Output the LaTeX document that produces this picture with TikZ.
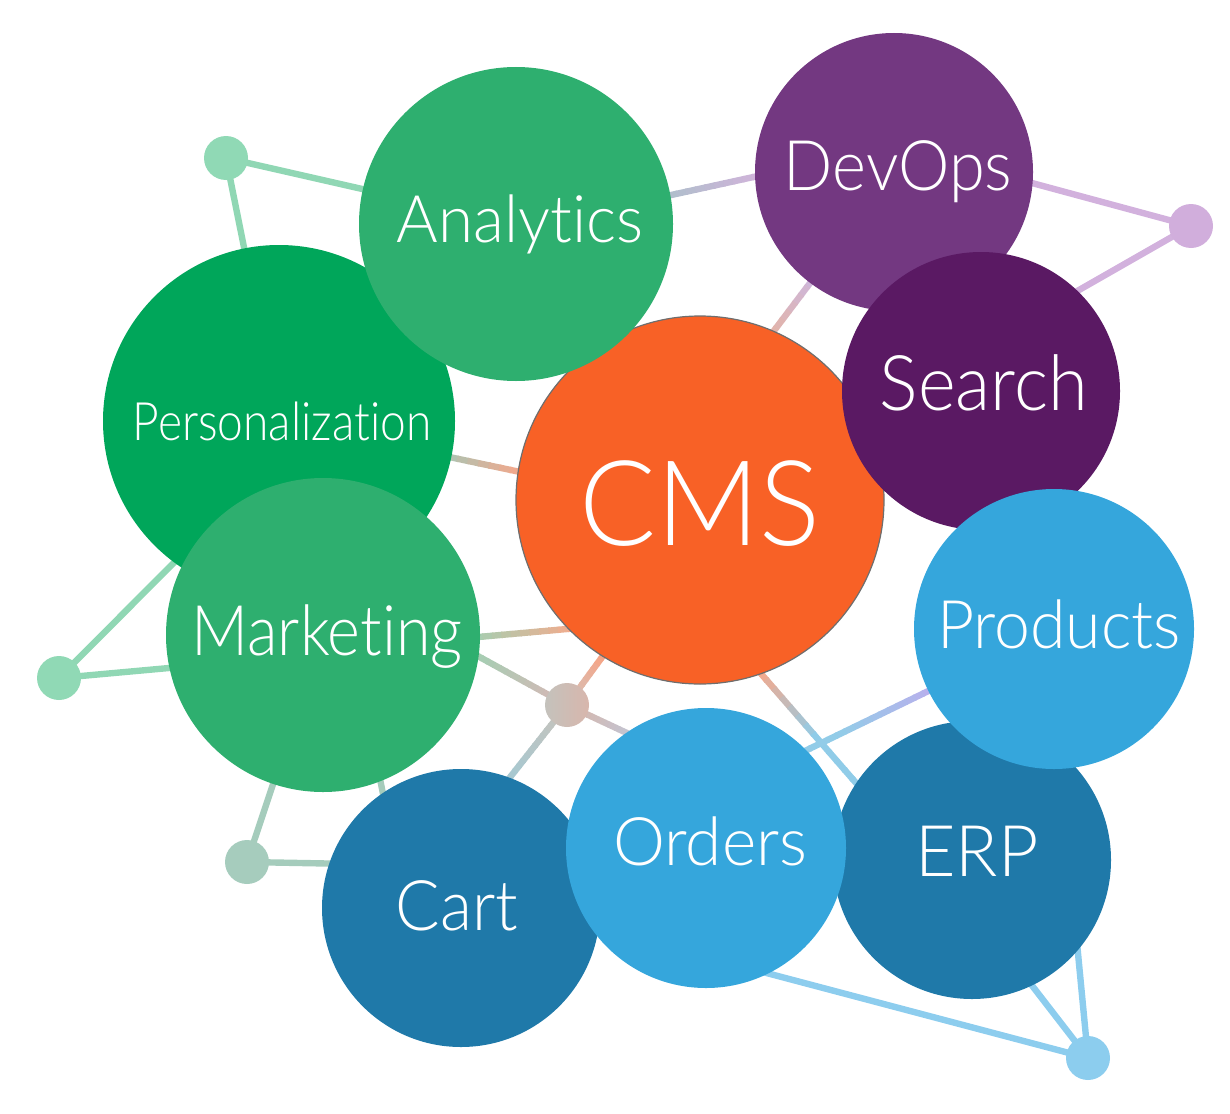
\documentclass[tikz,border=0pt]{standalone}
\usepackage{fontspec}
\usetikzlibrary{calc}
\IfFontExistsTF{Lato Light}{\newfontfamily\lfont{Lato Light}[Ligatures=NoCommon]}{%
  \IfFontExistsTF{Fira Sans Light}{\newfontfamily\lfont{Fira Sans Light}[Ligatures=NoCommon]}{\newfontfamily\lfont{Lato}[Ligatures=NoCommon]}}
\pgfdeclarelayer{bg}
\pgfsetlayers{bg,main}
\definecolor{anaG}{HTML}{2EAF6F}
\definecolor{perG}{HTML}{00A65A}
\definecolor{devP}{HTML}{733881}
\definecolor{seaP}{HTML}{5A1963}
\definecolor{cmsO}{HTML}{F86126}
\definecolor{proB}{HTML}{35A6DC}
\definecolor{erpB}{HTML}{1F79A9}
\definecolor{cmsLine}{HTML}{6E6E6E}
\definecolor{dotG}{HTML}{90D9B5}
\definecolor{dotS}{HTML}{A6CCBD}
\definecolor{dotML}{HTML}{C4C2BC}
\definecolor{dotMR}{HTML}{D8B6AC}
\definecolor{dotP}{HTML}{D1AEDC}
\definecolor{dotB}{HTML}{8CCDEE}
\definecolor{lnG}{HTML}{90D7B4}
\definecolor{lnS}{HTML}{A5CCBC}
\definecolor{lnP}{HTML}{D2B1DD}
\definecolor{lnB}{HTML}{8DCDEE}
% gradient end colours
\definecolor{gA1}{RGB}{176,190,204}\definecolor{gA2}{RGB}{208,180,218}
\definecolor{gB1}{RGB}{207,183,217}\definecolor{gB2}{RGB}{225,180,172}
\definecolor{gC1}{RGB}{171,196,179}\definecolor{gC2}{RGB}{242,168,140}
\definecolor{gD1}{RGB}{168,205,176}\definecolor{gD2}{RGB}{245,170,140}
\definecolor{gE1}{RGB}{205,187,181}\definecolor{gE2}{RGB}{168,205,179}
\definecolor{gF1}{RGB}{224,184,168}\definecolor{gF2}{RGB}{246,164,134}
\definecolor{gG1}{RGB}{210,185,180}\definecolor{gG2}{RGB}{196,196,208}
\definecolor{gH1}{RGB}{192,196,192}\definecolor{gH2}{RGB}{168,200,208}
\definecolor{gI1}{RGB}{240,170,144}\definecolor{gI2}{RGB}{144,204,232}
\definecolor{gJ1}{RGB}{184,176,236}\definecolor{gJ2}{RGB}{146,204,232}
% gradient connector: from #1 to #2, colour #3 up to fraction #5, colour #4 from fraction #6
\newcommand\gradln[6]{%
  \foreach \k in {1,...,40}{%
    \pgfmathsetmacro\gtv{(\k-0.5)/40}%
    \pgfmathtruncatemacro\gpc{100*max(0,min(1,(#6-\gtv)/(#6-#5)))}%
    \draw[conn,draw=#3!\gpc!#4] ($(#1)!{(\k-1)/40-0.002}!(#2)$) -- ($(#1)!{\k/40+0.002}!(#2)$);
  }}
% label text: size, horizontal squeeze, text
\newcommand\lbl[3]{{\lfont\fontsize{#1}{#1}\selectfont\scalebox{#2}[1]{#3}}}
\begin{document}
\begin{tikzpicture}[x=0.5pt,y=-0.5pt,
  bub/.style={circle,inner sep=0pt,draw=none},
  dotn/.style={circle,inner sep=0pt,minimum size=22pt,draw=none},
  conn/.style={line width=3.2pt,line cap=butt},
  lab/.style={text=white,anchor=base,inner sep=0pt}]
\useasboundingbox (0,0) rectangle (1230,1113);
% small dots
\node[dotn,fill=dotG] (g1) at (226,158) {};
\node[dotn,fill=dotG] (g2) at (59,678) {};
\node[dotn,fill=dotS] (g3) at (247,862) {};
\node[dotn,left color=dotML,right color=dotMR] (gd) at (567,705) {};
\node[dotn,fill=dotP] (pd) at (1191,226) {};
\node[dotn,fill=dotB] (bd) at (1088,1058) {};
% bubbles
\node[bub,fill=perG,minimum size=176pt] (per) at (279,421) {};
\node[bub,fill=cmsO,minimum size=184pt,draw=cmsLine,line width=0.6pt] (cms) at (700,500) {};
\node[bub,fill=anaG,minimum size=157pt] (ana) at (516,224) {};
\node[bub,fill=anaG,minimum size=157pt] (mkt) at (323,635) {};
\node[bub,fill=devP,minimum size=139pt] (dev) at (894,172) {};
\node[bub,fill=seaP,minimum size=139pt] (sea) at (981,391) {};
\node[bub,fill=erpB,minimum size=139pt] (erp) at (972,860) {};
\node[bub,fill=proB,minimum size=140pt] (pro) at (1054,629) {};
\node[bub,fill=erpB,minimum size=139pt] (cart) at (461,908) {};
\node[bub,fill=proB,minimum size=140pt] (ord) at (706,848) {};
% labels
\node[lab] (tana) at (520,242) {\lbl{32.8}{0.97}{Analytics}};
\node[lab] (tdev) at (898,190) {\lbl{34.9}{0.93}{DevOps}};
\node[lab] (tsea) at (984,410) {\lbl{38.4}{0.94}{Search}};
\node[lab] (tper) at (282,440) {\lbl{26.5}{0.87}{Personalization}};
\node[lab] (tcms) at (700,545) {\lbl{59.3}{0.96}{CMS}};
\node[lab] (tmkt) at (327,655) {\lbl{34.9}{0.9}{Marketing}};
\node[lab] (tpro) at (1059,648) {\lbl{33.5}{0.96}{Products}};
\node[lab] (tord) at (710,865) {\lbl{33.5}{0.98}{Orders}};
\node[lab] (terp) at (977,876) {\lbl{35.6}{0.98}{ERP}};
\node[lab] (tcart) at (457,930) {\lbl{34.9}{0.945}{Cart}};
% hidden end points of connectors inside bubbles
\coordinate (anaL) at ($(ana)+(0,5)$);
\coordinate (devH) at ($(dev)+(1,-26)$);
\coordinate (devC) at (dev.center);
\coordinate (perC) at (per.center);
\coordinate (gdC) at (gd.center);
\coordinate (seaT) at ($(sea)+(0,-45)$);
\coordinate (cmsD) at ($(cms)+(-54,0)$);
\coordinate (cmsP) at ($(cms)+(0,10)$);
\coordinate (perGp) at ($(per)+(37,-1)$);
\coordinate (mktG) at ($(mkt)+(0,19)$);
\coordinate (mktC) at ($(mkt)+(0,16)$);
\coordinate (cmsM) at ($(cms)+(0,117)$);
\coordinate (mktD) at ($(mkt)+(0,-64)$);
\coordinate (cmsG) at ($(cms)+(17,0)$);
\coordinate (ordG) at ($(ord)+(0,-78)$);
\coordinate (cartG) at ($(cart)+(-54,0)$);
\coordinate (cartL) at ($(cart)+(0,-42)$);
\coordinate (mktB) at ($(mkt)+(28,0)$);
\coordinate (cartT) at ($(cart)+(-55,0)$);
\coordinate (cmsE) at ($(cms)+(-90,0)$);
\coordinate (erpC) at ($(erp)+(-49,0)$);
\coordinate (proO) at ($(pro)+(0,1)$);
\coordinate (ordP) at ($(ord)+(0,-49)$);
\coordinate (ordB) at ($(ord)+(0,109)$);
\coordinate (erpD) at ($(erp)+(-37,0)$);
\coordinate (proD) at ($(pro)+(-7,0)$);
\begin{pgfonlayer}{bg}
  % solid connectors
  \draw[conn,lnG] (g1.center) -- (ana.center);
  \draw[conn,lnG] (g1.center) -- (per.center);
  \draw[conn,lnG] (g2.center) -- (perGp);
  \draw[conn,lnG] (g2.center) -- (mktG);
  \draw[conn,lnS] (g3.center) -- (mkt.center);
  \draw[conn,lnS] (g3.center) -- (cartL);
  \draw[conn,lnS] (mktB) -- (cartT);
  \draw[conn,lnP] (devH) -- (pd.center);
  \draw[conn,lnP] (pd.center) -- (seaT);
  \draw[conn,lnB] (ordB) -- (bd.center);
  \draw[conn,lnB] (erpD) -- (bd.center);
  \draw[conn,lnB] (proD) -- (bd.center);
  % gradient connectors
  \gradln{anaL}{devH}{gA1}{gA2}{0.41}{0.64}
  \gradln{devC}{cmsD}{gB1}{gB2}{0.34}{0.48}
  \gradln{perC}{cmsP}{gC1}{gC2}{0.40}{0.57}
  \gradln{mktC}{cmsM}{gD1}{gD2}{0.42}{0.67}
  \gradln{gdC}{mktD}{gE1}{gE2}{0.09}{0.35}
  \gradln{gdC}{cmsG}{gF1}{gF2}{0.10}{0.23}
  \gradln{gdC}{ordG}{gG1}{gG2}{0.15}{0.43}
  \gradln{gdC}{cartG}{gH1}{gH2}{0.10}{0.34}
  \gradln{cmsE}{erpC}{gI1}{gI2}{0.49}{0.66}
  \gradln{proO}{ordP}{gJ1}{gJ2}{0.36}{0.62}
\end{pgfonlayer}
\end{tikzpicture}
\end{document}
